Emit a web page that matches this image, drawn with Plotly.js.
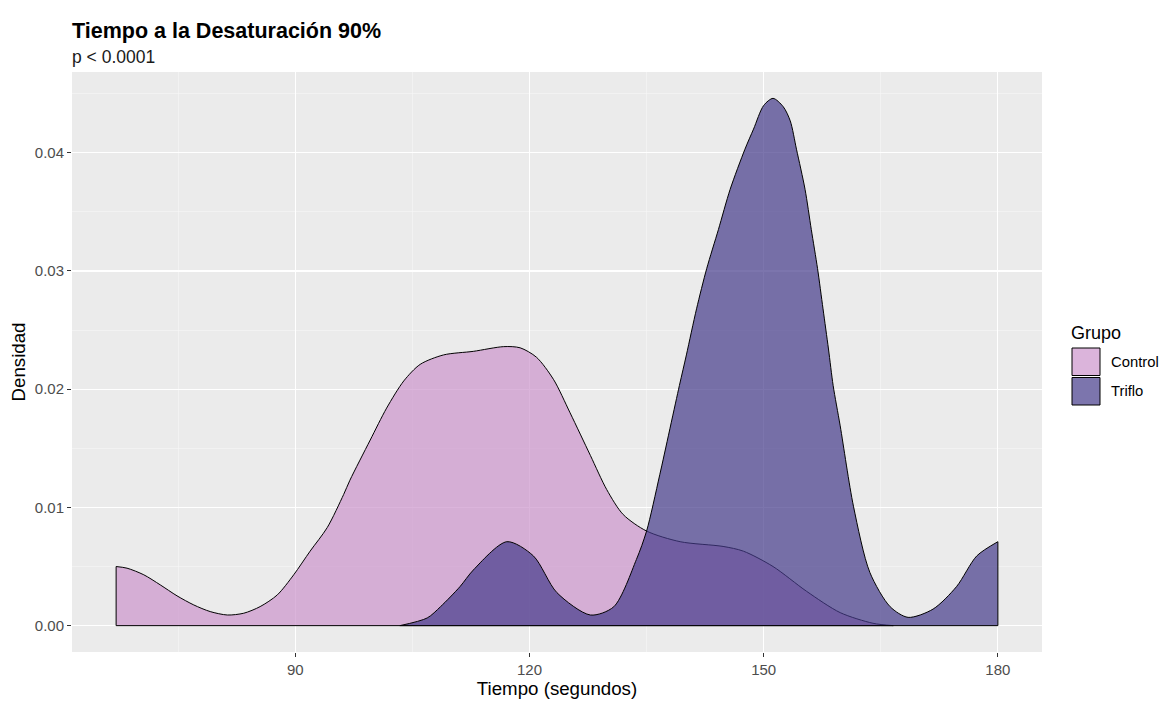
<!DOCTYPE html>
<html>
<head>
<meta charset="utf-8">
<script src="https://cdn.plot.ly/plotly-3.0.1.min.js"></script>
<style>html,body{margin:0;padding:0;background:#fff}#chart{width:1161px;height:702px}</style>
</head>
<body>
<div id="chart"></div>
<script>
// Data (kernel density estimates)
const groups = ["Control", "Triflo"];
const controlX = [67.05, 68.45, 70.6, 72.7, 74.85, 77.0, 79.1, 81.3, 83.4, 85.5, 87.7, 89.8, 91.9, 94.1, 96.2, 97.0, 99.6, 101.7, 103.9, 106.0, 109.0, 112.8, 116.7, 118.8, 120.9, 123.1, 125.2, 127.8, 129.9, 132.0, 135.0, 139.3, 144.8, 147.4, 151.2, 155.5, 159.8, 164.0, 166.6];
const controlY = [0.0050, 0.00486, 0.0043, 0.00345, 0.00252, 0.00175, 0.00119, 0.0009, 0.00105, 0.00161, 0.0026, 0.0043, 0.0063, 0.0083, 0.0111, 0.0123, 0.0157, 0.0184, 0.0207, 0.0221, 0.0229, 0.0232, 0.0236, 0.0235, 0.0227, 0.0208, 0.0180, 0.0144, 0.0115, 0.0094, 0.0080, 0.0071, 0.0067, 0.0063, 0.0050, 0.0029, 0.0011, 0.0002, 0.0];
const trifloX = [103.4, 106.9, 108.6, 111.1, 112.8, 117.1, 120.5, 123.5, 127.8, 130.8, 133.7, 135.0, 136.7, 139.2, 140.1, 141.4, 142.7, 144.2, 145.7, 147.6, 148.7, 150.0, 151.2, 152.5, 153.4, 154.2, 155.3, 156.1, 156.9, 157.6, 158.3, 158.9, 159.8, 161.5, 163.6, 166.2, 168.5, 171.7, 174.7, 177.3, 180.0];
const trifloY = [0.0, 0.00065, 0.0016, 0.0033, 0.0047, 0.0071, 0.0059, 0.0028, 0.0009, 0.0016, 0.0056, 0.0080, 0.0128, 0.0203, 0.0229, 0.0268, 0.0302, 0.0335, 0.0369, 0.0403, 0.0420, 0.0440, 0.0446, 0.0439, 0.0427, 0.0403, 0.0369, 0.0335, 0.0302, 0.0268, 0.0234, 0.0203, 0.0169, 0.0101, 0.0045, 0.0016, 0.0007, 0.0014, 0.0033, 0.0059, 0.0071];
const xTicks = [90, 120, 150, 180];
const yTicks = [0.00, 0.01, 0.02, 0.03, 0.04];
const legendTitle = "Grupo";
const subtitleText = "p < 0.0001";

const fills = ["rgba(204,148,204,0.7)", "rgba(69,59,138,0.7)"];
const series = [[controlX, controlY], [trifloX, trifloY]];

const traces = [];
series.forEach(([xs, ys], i) => {
  traces.push({
    type: "scatter", mode: "lines", name: groups[i], x: xs, y: ys,
    fill: "tozeroy", fillcolor: fills[i],
    line: {color: "#000000", width: 1, shape: "spline", smoothing: 0.8},
    showlegend: false, hoverinfo: "skip"
  });
  const n = xs.length - 1;
  traces.push({
    type: "scatter", mode: "lines",
    x: [xs[0], xs[0], xs[n], xs[n]], y: [ys[0], 0, 0, ys[n]],
    line: {color: "#000000", width: 1}, showlegend: false, hoverinfo: "skip"
  });
});

// Legend drawn as paper-referenced shapes and annotations (ggplot-style square keys)
const plotL = 72, plotR = 1042, plotT = 72, plotB = 652;
const px2x = p => (p - plotL) / (plotR - plotL);
const py2y = p => (plotB - p) / (plotB - plotT);
const shapes = [], annotations = [];
annotations.push({
  text: subtitleText, xref: "paper", yref: "paper", x: px2x(70), y: py2y(57),
  xanchor: "left", yanchor: "middle", showarrow: false,
  font: {size: 17.5, color: "#1a1a1a"}
});
annotations.push({
  text: legendTitle, xref: "paper", yref: "paper", x: px2x(1069), y: py2y(333),
  xanchor: "left", yanchor: "middle", showarrow: false,
  font: {size: 18, color: "#000000"}
});
groups.forEach((g, i) => {
  const top = 348 + i * 29.5, bot = top + 27.5;
  shapes.push({
    type: "rect", xref: "paper", yref: "paper",
    x0: px2x(1072), x1: px2x(1100), y0: py2y(bot), y1: py2y(top),
    fillcolor: fills[i], line: {color: "#000000", width: 1}
  });
  annotations.push({
    text: g, xref: "paper", yref: "paper", x: px2x(1109), y: py2y((top + bot) / 2),
    xanchor: "left", yanchor: "middle", showarrow: false,
    font: {size: 14.8, color: "#000000"}
  });
});

const layout = {
  width: 1161, height: 702,
  paper_bgcolor: "#ffffff", plot_bgcolor: "#EBEBEB",
  margin: {l: plotL, r: 1161 - plotR, t: plotT, b: 702 - plotB},
  font: {family: "Liberation Sans, Arial, sans-serif", color: "#000000"},
  title: {
    text: "<b>Tiempo a la Desaturación 90%</b>",
    font: {size: 21.5, color: "#000000"},
    x: 0, xref: "paper", xanchor: "left",
    y: 1 - 30 / 702, yref: "container", yanchor: "middle"
  },
  xaxis: {
    range: [61.4, 185.65], tickvals: xTicks, ticktext: xTicks.map(String),
    showgrid: true, gridcolor: "#ffffff", gridwidth: 1.2, zeroline: false,
    minor: {dtick: 15, tick0: 0, showgrid: true, gridcolor: "#F7F7F7", gridwidth: 0.6},
    ticks: "outside", ticklen: 4, tickcolor: "#333333", tickwidth: 1,
    tickfont: {size: 15, color: "#4D4D4D"},
    title: {text: "Tiempo (segundos)", font: {size: 18.7, color: "#000000"}, standoff: 3},
    showline: false
  },
  yaxis: {
    range: [-0.00223, 0.04683], tickvals: yTicks, ticktext: yTicks.map(v => v.toFixed(2)),
    showgrid: true, gridcolor: "#ffffff", gridwidth: 1.2, zeroline: false,
    minor: {dtick: 0.005, tick0: 0, showgrid: true, gridcolor: "#F7F7F7", gridwidth: 0.6},
    ticks: "outside", ticklen: 4, tickcolor: "#333333", tickwidth: 1,
    tickfont: {size: 15, color: "#4D4D4D"},
    title: {text: "Densidad", font: {size: 18.7, color: "#000000"}, standoff: 4},
    showline: false
  },
  shapes: shapes,
  annotations: annotations,
  showlegend: false
};

Plotly.newPlot("chart", traces, layout, {displayModeBar: false, staticPlot: true});
</script>
</body>
</html>
